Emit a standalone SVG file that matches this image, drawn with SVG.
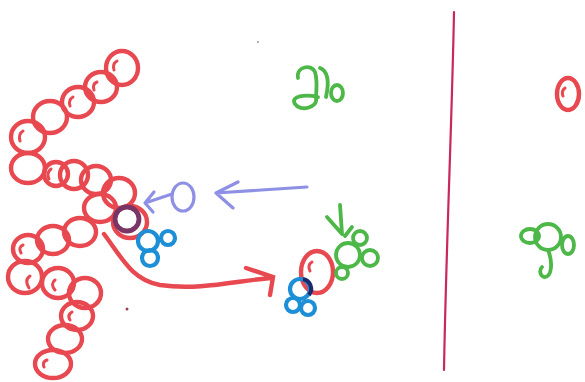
<svg xmlns="http://www.w3.org/2000/svg" width="585" height="382" viewBox="0 0 585 382">
<style>
.r{fill:none;stroke:#e8484f;stroke-width:4.4;stroke-linecap:round}
.h{fill:none;stroke:#e8484f;stroke-width:3;stroke-linecap:round}
.g{fill:none;stroke:#4db848;stroke-width:3.8;stroke-linecap:round}
.b{fill:none;stroke:#1c8fd6;stroke-width:4.2;stroke-linecap:round}
.p{fill:none;stroke:#8e90e6;stroke-width:3.2;stroke-linecap:round;stroke-linejoin:round}
</style>
<rect width="585" height="382" fill="#ffffff"/>
<g id="chain-upper">
<ellipse class="r" cx="122" cy="68" rx="16" ry="17"/>
<ellipse class="r" cx="101" cy="87" rx="16" ry="15"/>
<ellipse class="r" cx="78" cy="102" rx="16" ry="15"/>
<ellipse class="r" cx="50" cy="117" rx="17" ry="16"/>
<ellipse class="r" cx="28" cy="137" rx="17" ry="16"/>
<ellipse class="r" cx="28" cy="168" rx="17" ry="15"/>
<ellipse class="r" cx="56" cy="174" rx="12" ry="12"/>
<ellipse class="r" cx="74" cy="175" rx="14" ry="14"/>
<ellipse class="r" cx="96" cy="180" rx="15" ry="14"/>
<ellipse class="r" cx="119" cy="193" rx="16" ry="15"/>
<ellipse class="r" cx="100" cy="208" rx="16" ry="14"/>
<path class="h" d="M117,61 q-5,3 -3,9 M97,82 q-5,2 -3,8 M73,97 q-5,3 -3,9 M23,131 q-5,3 -3,10 M51,169 q-5,4 -2,10"/>
</g>
<g id="chain-lower">
<ellipse class="r" cx="130" cy="222" rx="17" ry="16"/>
<ellipse class="r" cx="80" cy="232" rx="16" ry="14"/>
<ellipse class="r" cx="53" cy="240" rx="16" ry="14"/>
<ellipse class="r" cx="28" cy="249" rx="15" ry="14"/>
<ellipse class="r" cx="25" cy="277" rx="17" ry="16"/>
<ellipse class="r" cx="58" cy="283" rx="16" ry="15"/>
<ellipse class="r" cx="85" cy="293" rx="16" ry="15"/>
<ellipse class="r" cx="77" cy="316" rx="16" ry="14"/>
<ellipse class="r" cx="65" cy="339" rx="17" ry="14"/>
<ellipse class="r" cx="53" cy="364" rx="18" ry="14"/>
<path class="h" d="M23,245 q-5,2 -2,8 M30,276 q-6,4 -1,12 M55,280 q-5,4 0,10 M72,312 q-5,3 -2,8 M47,360 q-5,2 -3,7"/>
</g>
<g id="active-site">
<ellipse cx="127" cy="219" rx="12" ry="12" fill="none" stroke="#7a3566" stroke-width="4.8"/>
</g>
<g id="blue-cluster-left">
<circle class="b" cx="148" cy="241" r="10"/>
<circle class="b" cx="168" cy="238" r="7"/>
<circle class="b" cx="150" cy="258" r="8"/>
</g>
<g id="purple-ligand">
<ellipse class="p" cx="183" cy="197" rx="11" ry="14"/>
</g>
<g id="connectors">
<path class="p" d="M172,194 L145,203 M154,192 L145,203 L153,212"/>
<path class="p" d="M307,187 L216,193 M238,182 L216,193 L233,208"/>
<path class="r" d="M104,234 C122,258 132,280 160,285 C200,291 240,280 272,278 M246,268 L273,277 L270,295"/>
</g>
<g id="complex-right">
<ellipse class="r" cx="317" cy="272" rx="16" ry="21"/>
<path class="h" d="M312,262 q-5,3 -2,9"/>
<circle class="b" cx="300" cy="289" r="10"/>
<circle class="b" cx="293" cy="305" r="7"/>
<circle class="b" cx="308" cy="308" r="7"/>
<path d="M303,279 A10,10 0 0 1 309,295" fill="none" stroke="#1a2a6a" stroke-width="4"/>
<circle class="g" cx="348" cy="255" r="12"/>
<circle class="g" cx="360" cy="238" r="7"/>
<circle class="g" cx="370" cy="258" r="8"/>
<circle class="g" cx="342" cy="273" r="6"/>
<path class="g" d="M327,217 L342,234 M340,205 L342,234 M352,227 L345,236"/>
</g>
<g id="green-top">
<path class="g" d="M298,78 C296,66 312,64 315,72 C318,82 316,92 316,98 C318,108 300,112 295,104 C290,96 305,94 318,97"/>
<path class="g" d="M320,68 C330,72 328,88 326,97"/>
<ellipse class="g" cx="337" cy="93" rx="6" ry="8"/>
</g>
<g id="divider">
<path d="M454,12 C452,120 446,250 444,370" fill="none" stroke="#c8285a" stroke-width="2.2" stroke-linecap="round"/>
</g>
<g id="red-right">
<ellipse class="r" cx="568" cy="94" rx="11" ry="16"/>
<path class="h" d="M565,88 q-4,3 -2,8"/>
</g>
<g id="green-right">
<circle class="g" cx="548" cy="237" r="13"/>
<ellipse class="g" cx="530" cy="236" rx="9" ry="7"/>
<ellipse class="g" cx="568" cy="245" rx="6" ry="9"/>
<path class="g" d="M548,250 C553,262 552,278 544,277 C540,276 539,270 542,267"/>
</g>
<g id="specks">
<circle cx="127" cy="309" r="1.5" fill="#a04050"/>
<circle cx="258" cy="42" r="1" fill="#999"/>
</g>
</svg>
